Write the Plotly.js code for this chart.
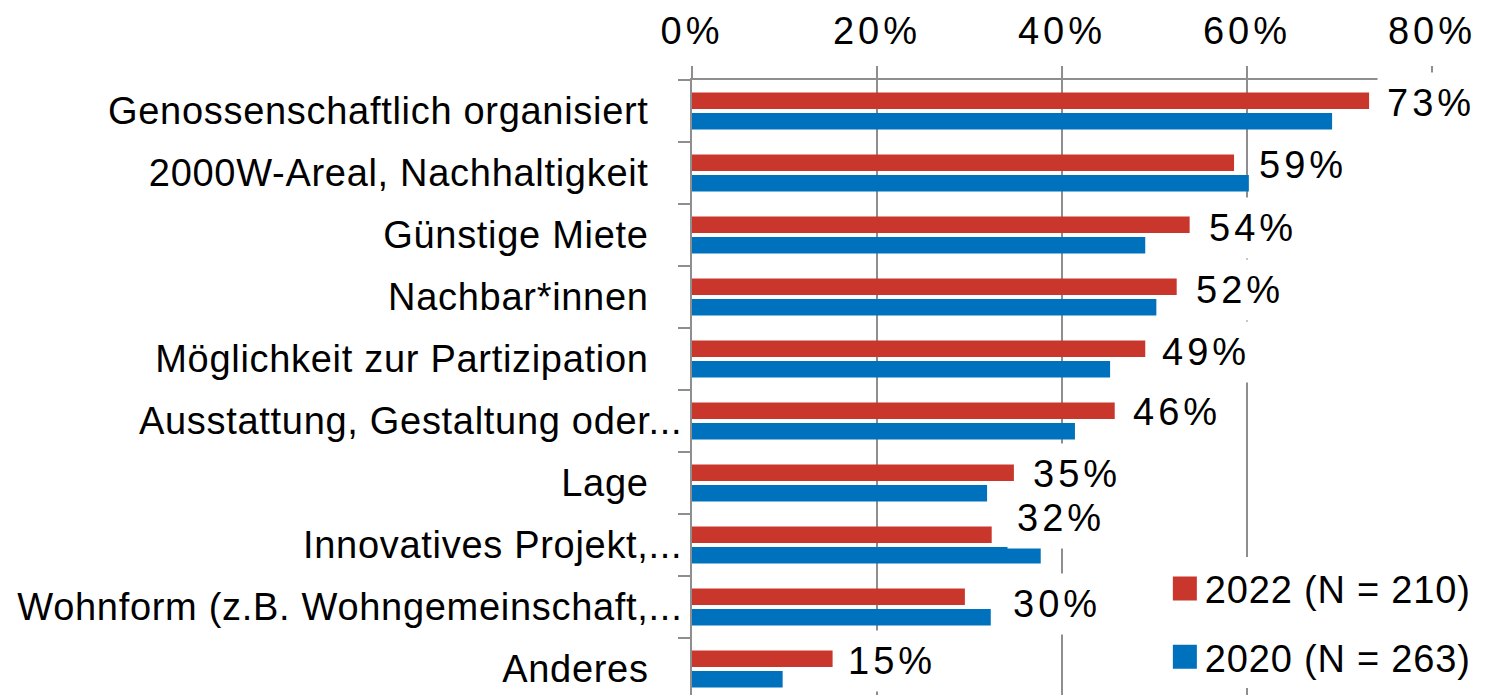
<!DOCTYPE html>
<html>
<head>
<meta charset="utf-8">
<script src="https://cdn.plot.ly/plotly-3.0.1.min.js"></script>
<style>
  html, body { margin: 0; padding: 0; background: #fff; overflow: hidden; }
  #chart { width: 1487px; height: 695px; }
  .ytick text { letter-spacing: 0.7px; }
  .xtick text { letter-spacing: 4px; }
  .annotation-text { letter-spacing: 4px; }
  .legendtext { letter-spacing: 0.8px; }
  .legendpoints path { d: path('M12,12H-12V-12H12Z'); }
</style>
</head>
<body>
<div id="chart"></div>
<script>
// ---- data ----
const categories = [
  "Genossenschaftlich organisiert",
  "2000W-Areal, Nachhaltigkeit",
  "Günstige Miete",
  "Nachbar*innen",
  "Möglichkeit zur Partizipation",
  "Ausstattung, Gestaltung oder...",
  "Lage",
  "Innovatives Projekt,...",
  "Wohnform (z.B. Wohngemeinschaft,...",
  "Anderes"
];
const values2022 = [73.2, 58.6, 53.8, 52.4, 49.0, 45.7, 34.8, 32.4, 29.5, 15.2];
const values2020 = [69.2, 60.2, 49.0, 50.2, 45.2, 41.4, 31.9, 37.7, 32.3, 9.8];
const seriesNames = ["2022 (N = 210)", "2020 (N = 263)"];
const xTickValues = [0, 0.2, 0.4, 0.6, 0.8];

// ---- label placement tweaks (pixels) ----
const labelDx = [8, 15, 9, 9, 7, 8, 9, 15, 38, 5];
const labelDy = [8, 8, 7, 7, 7, 9, 9, 27, 3, 8];

const RED = "#C9372C";
const BLUE = "#0071BC";
const GRID = "#8E8E8E";
const FONT = '"Liberation Sans", Arial, Helvetica, sans-serif';

const traces = [
  {
    type: "bar", orientation: "h", name: seriesNames[0], legendgroup: "a",
    y: categories, x: values2022.map(v => v / 100),
    marker: { color: RED, line: { width: 0 } },
    hoverinfo: "skip"
  },
  {
    type: "bar", orientation: "h", name: seriesNames[1], legendgroup: "b",
    y: categories, x: values2020.map(v => v / 100),
    marker: { color: BLUE, line: { width: 0 } },
    hoverinfo: "skip"
  }
];

const annotations = values2022.map((v, i) => ({
  x: v / 100, y: categories[i], xref: "x", yref: "y",
  text: Math.round(v) + "%",
  showarrow: false, xanchor: "left", yanchor: "middle",
  xshift: labelDx[i], yshift: labelDy[i],
  bgcolor: "#ffffff", borderpad: 9,
  font: { family: FONT, size: 38, color: "#000" }
}));

const layout = {
  width: 1487, height: 695,
  margin: { l: 692, r: 55, t: 80, b: 0, pad: 0 },
  paper_bgcolor: "#ffffff", plot_bgcolor: "#ffffff",
  font: { family: FONT, size: 38, color: "#000" },
  barmode: "group", bargap: 0.339, bargroupgap: 0.195,
  showlegend: true,
  legend: {
    x: 0.639, y: 0.224, xanchor: "left", yanchor: "top",
    bgcolor: "#ffffff", borderwidth: 0,
    traceorder: "grouped", tracegroupgap: 16,
    font: { family: FONT, size: 38, color: "#000" }
  },
  xaxis: {
    side: "top", range: [0, 0.8], tickvals: xTickValues, tickformat: ".0%",
    showgrid: true, gridcolor: GRID, gridwidth: 2, zeroline: false,
    showline: true, linecolor: GRID, linewidth: 2,
    ticks: "outside", ticklen: 12, tickwidth: 2, tickcolor: GRID,
    ticklabelstandoff: 7,
    tickfont: { family: FONT, size: 38, color: "#000" },
    fixedrange: true
  },
  yaxis: {
    type: "category",
    range: [-0.5 + 615 / 62, -0.5],
    tickvals: categories,
    ticktext: categories.map(c => c.endsWith("...") ? c : c + "\u00a0\u00a0\u00a0"),
    tickson: "boundaries",
    showgrid: false, zeroline: false,
    showline: true, linecolor: GRID, linewidth: 2,
    ticks: "outside", ticklen: 12, tickwidth: 2, tickcolor: GRID,
    ticklabelstandoff: 0,
    tickfont: { family: FONT, size: 38, color: "#000" },
    fixedrange: true
  },
  annotations: annotations
};

Plotly.newPlot("chart", traces, layout, { displayModeBar: false, staticPlot: true });
</script>
</body>
</html>
